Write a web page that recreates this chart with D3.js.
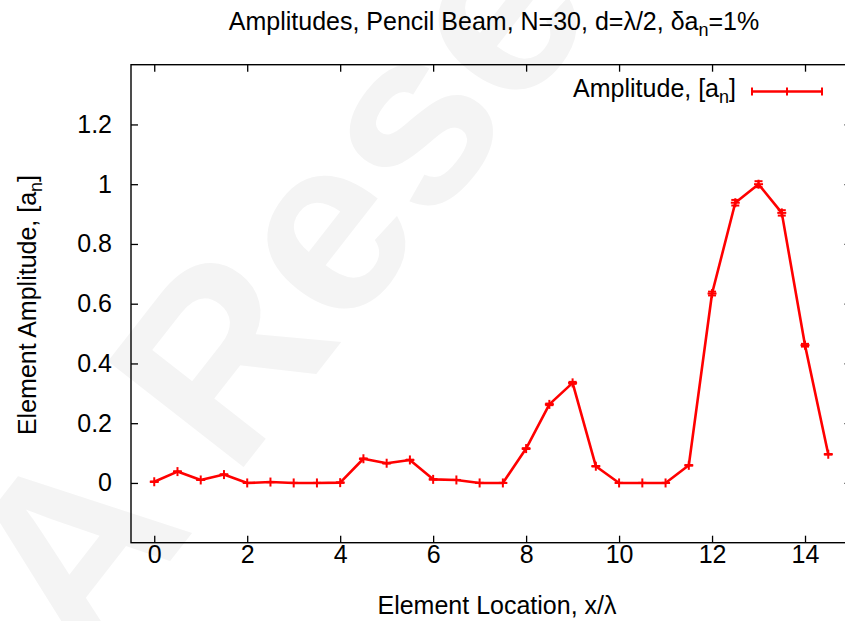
<!DOCTYPE html>
<html>
<head>
<meta charset="utf-8">
<script src="https://cdn.jsdelivr.net/npm/d3@7/dist/d3.min.js"></script>
<style>
  html, body { margin: 0; padding: 0; background: #fff; }
  svg { display: block; }
  text { font-family: "Liberation Sans", Arial, Helvetica, sans-serif; fill: #000; }
</style>
</head>
<body>
<div id="chart"></div>
<script>
// ---- data ----
const positions = [0, 0.5, 1, 1.5, 2, 2.5, 3, 3.5, 4, 4.5, 5, 5.5, 6, 6.5, 7, 7.5,
                   8, 8.5, 9, 9.5, 10, 10.5, 11, 11.5, 12, 12.5, 13, 13.5, 14, 14.5];
const amplitudes = [0.004, 0.038, 0.010, 0.028, 0.000, 0.003, 0.000, 0.000, 0.001, 0.081,
                    0.066, 0.077, 0.012, 0.010, 0.000, 0.000, 0.115, 0.263, 0.335, 0.056,
                    0.000, 0.000, 0.000, 0.059, 0.634, 0.938, 1.000, 0.904, 0.461, 0.096];
const relError = 0.01; // delta a_n = 1%
const xTicks = [0, 2, 4, 6, 8, 10, 12, 14];
const yTicks = [0, 0.2, 0.4, 0.6, 0.8, 1, 1.2];
const seriesName = "Amplitude, [a";

// ---- layout ----
const W = 845, H = 621;
const svg = d3.select("#chart").append("svg").attr("width", W).attr("height", H);

// watermark (faint)
svg.append("text")
  .attr("transform", "translate(85,670) rotate(-52)")
  .attr("font-size", 250)
  .style("fill", "#f4f4f4")
  .style("font-weight", "bold")
  .text("A Rese");

const x = d3.scaleLinear().domain([-0.5, 15]).range([131, 851.5]);
const y = d3.scaleLinear().domain([-0.2, 1.4]).range([542.7, 64.7]);

const FS = 25;
const red = "#ff0000";

// frame
const x0 = x.range()[0], x1 = x.range()[1], y0 = y.range()[0], y1 = y.range()[1];
svg.append("rect").attr("x", x0).attr("y", y1).attr("width", x1 - x0).attr("height", y0 - y1)
  .attr("fill", "none").attr("stroke", "#000").attr("stroke-width", 1.4);

// axes with inward ticks
const tickLen = 7;
const xAxis = d3.axisBottom(x).tickValues(xTicks).tickSize(-tickLen).tickFormat(d3.format("d"));
const gx = svg.append("g").attr("transform", `translate(0,${y0})`).call(xAxis);
gx.select(".domain").remove();
gx.selectAll(".tick line").attr("stroke", "#000").attr("stroke-width", 1.3);
gx.selectAll(".tick text").attr("font-size", FS).attr("font-family", "Liberation Sans, Arial, sans-serif")
  .attr("y", 20.5).attr("dy", null);

const xAxisTop = d3.axisTop(x).tickValues(xTicks).tickSize(-tickLen).tickFormat("");
const gxt = svg.append("g").attr("transform", `translate(0,${y1})`).call(xAxisTop);
gxt.select(".domain").remove();
gxt.selectAll(".tick line").attr("stroke", "#000").attr("stroke-width", 1.3);

const yAxis = d3.axisLeft(y).tickValues(yTicks).tickSize(-tickLen).tickPadding(19).tickFormat(d => d3.format("")(+d.toFixed(1)));
const gy = svg.append("g").attr("transform", `translate(${x0},0)`).call(yAxis);
gy.select(".domain").remove();
gy.selectAll(".tick line").attr("stroke", "#000").attr("stroke-width", 1.3);
gy.selectAll(".tick text").attr("font-size", FS).attr("font-family", "Liberation Sans, Arial, sans-serif");

const yAxisRight = d3.axisRight(y).tickValues(yTicks).tickSize(-tickLen).tickFormat("");
const gyr = svg.append("g").attr("transform", `translate(${x1},0)`).call(yAxisRight);
gyr.select(".domain").remove();
gyr.selectAll(".tick line").attr("stroke", "#000").attr("stroke-width", 1.3);

// data
const data = positions.map((p, i) => ({ x: p, a: amplitudes[i], e: amplitudes[i] * relError }));

svg.append("path")
  .datum(data)
  .attr("fill", "none")
  .attr("stroke", red)
  .attr("stroke-width", 2.6)
  .attr("stroke-linejoin", "round")
  .attr("d", d3.line().x(d => x(d.x)).y(d => y(d.a)));

const cap = 4, ps = 4.5;
const marks = svg.append("g").attr("stroke", red).attr("stroke-width", 2);
data.forEach(d => {
  const cx = x(d.x), cy = y(d.a), yt = y(d.a + d.e), yb = y(d.a - d.e);
  const g = marks.append("g");
  g.append("line").attr("x1", cx).attr("x2", cx).attr("y1", yt).attr("y2", yb);
  g.append("line").attr("x1", cx - cap).attr("x2", cx + cap).attr("y1", yt).attr("y2", yt);
  g.append("line").attr("x1", cx - cap).attr("x2", cx + cap).attr("y1", yb).attr("y2", yb);
  g.append("line").attr("x1", cx - ps).attr("x2", cx + ps).attr("y1", cy).attr("y2", cy);
  g.append("line").attr("x1", cx).attr("x2", cx).attr("y1", cy - ps).attr("y2", cy + ps);
});

// legend
const lg = svg.append("g");
const lt = lg.append("text").attr("x", 736).attr("y", 97).attr("text-anchor", "end").attr("font-size", FS);
lt.append("tspan").text(seriesName);
lt.append("tspan").attr("font-size", FS * 0.72).attr("dy", 6).text("n");
lt.append("tspan").attr("dy", -6).text("]");
const ly = 91.5, lx0 = 752, lx1 = 822;
lg.append("line").attr("x1", lx0).attr("x2", lx1).attr("y1", ly).attr("y2", ly).attr("stroke", red).attr("stroke-width", 2.6);
lg.append("line").attr("x1", lx0).attr("x2", lx0).attr("y1", ly - 4).attr("y2", ly + 4).attr("stroke", red).attr("stroke-width", 2);
lg.append("line").attr("x1", lx1).attr("x2", lx1).attr("y1", ly - 4).attr("y2", ly + 4).attr("stroke", red).attr("stroke-width", 2);
lg.append("line").attr("x1", (lx0 + lx1) / 2).attr("x2", (lx0 + lx1) / 2).attr("y1", ly - 4).attr("y2", ly + 4).attr("stroke", red).attr("stroke-width", 2);

// title
const tt = svg.append("text").attr("x", 494).attr("y", 30).attr("text-anchor", "middle").attr("font-size", FS);
tt.append("tspan").text("Amplitudes, Pencil Beam, N=30, d=λ/2, δa");
tt.append("tspan").attr("font-size", FS * 0.72).attr("dy", 6).text("n");
tt.append("tspan").attr("dy", -6).text("=1%");

// axis labels
svg.append("text").attr("x", 497).attr("y", 614).attr("text-anchor", "middle").attr("font-size", FS)
  .text("Element Location, x/λ");
const yl = svg.append("text").attr("transform", "translate(36,305) rotate(-90)").attr("text-anchor", "middle").attr("font-size", FS);
yl.append("tspan").text("Element Amplitude, [a");
yl.append("tspan").attr("font-size", FS * 0.72).attr("dy", 6).text("n");
yl.append("tspan").attr("dy", -6).text("]");
</script>
</body>
</html>
